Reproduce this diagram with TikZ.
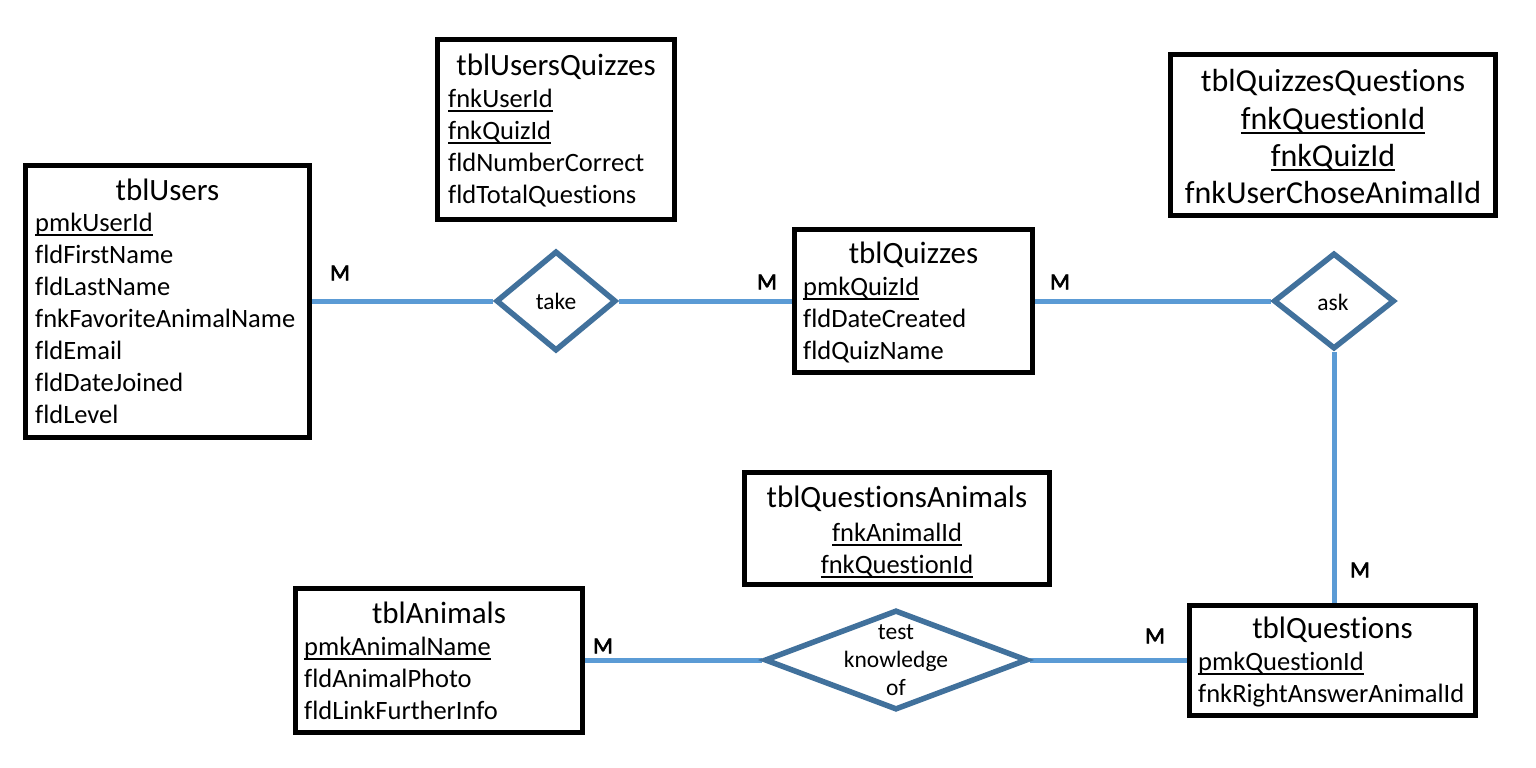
\documentclass[tikz,border=0pt]{standalone}
\usepackage{fontspec}
\setmainfont{Carlito}[Ligatures={NoCommon,NoRequired,NoContextual}]
\newfontfamily\cardfont{Carlito}[FakeBold=3,Ligatures={NoCommon}]
\usetikzlibrary{shapes.geometric,backgrounds}
\definecolor{conn}{HTML}{5B9BD5}
\definecolor{rel}{HTML}{41719C}
\newcommand\myul[1]{\setbox0\hbox{#1}\rlap{\rule[-4.5pt]{\wd0}{1.8pt}}\box0}
\begin{document}
\begin{tikzpicture}[x=1pt,y=-1pt,
  tbl/.style={draw=black,line width=5pt,fill=white,inner sep=0pt,rectangle},
  relship/.style={draw=rel,line width=5.5pt,fill=white,diamond,inner sep=0pt},
  connector/.style={draw=conn,line width=5pt},
  ttl/.style={font=\fontsize{31}{37}\selectfont,inner sep=0pt,anchor=base},
  fld/.style={font=\fontsize{26.5}{32}\selectfont,inner sep=0pt,anchor=base west},
  cfld/.style={font=\fontsize{26.5}{32}\selectfont,inner sep=0pt,anchor=base},
  bigfld/.style={font=\fontsize{32}{38}\selectfont,inner sep=0pt,anchor=base},
  reltext/.style={font=\fontsize{23.5}{28}\selectfont,inner sep=0pt,align=center},
  card/.style={font=\cardfont\fontsize{23}{24}\selectfont,inner sep=0pt}]
\useasboundingbox (0,0) rectangle (1536,768);

% tables
\node[tbl,minimum width=284pt,minimum height=272pt] (users) at (167.5,301) {};
\node[tbl,minimum width=237pt,minimum height=180pt] (uq) at (556,129.5) {};
\node[tbl,minimum width=238pt,minimum height=143pt] (quizzes) at (913.5,301) {};
\node[tbl,minimum width=325pt,minimum height=161pt] (qq) at (1333,135) {};
\node[tbl,minimum width=305pt,minimum height=112pt] (qa) at (897,528.5) {};
\node[tbl,minimum width=287pt,minimum height=144pt] (animals) at (439,660) {};
\node[tbl,minimum width=286pt,minimum height=110pt] (questions) at (1332.5,660) {};

% relationships
\node[relship,minimum width=120pt,minimum height=100pt] (take) at (556,301) {};
\node[relship,minimum width=121pt,minimum height=96pt] (ask) at (1334,301) {};
\node[relship,minimum width=263pt,minimum height=100pt] (test) at (896,660) {};
\node[reltext] (taketxt) at (556,301) {take};
\node[reltext] (asktxt) at (1333,302) {ask};
\node[reltext] (testtxt) at (896,660) {test\\knowledge\\of};

% tblUsers
\node[ttl] (usersT) at (167.5,200) {tblUsers};
\foreach \t [count=\i from 0] in {\myul{pmkUserId},fldFirstName,fldLastName,fnkFavoriteAnimalName,fldEmail,fldDateJoined,fldLevel}
  \node[fld] (u\i) at (35,231+32*\i) {\t};

% tblUsersQuizzes
\node[ttl] (uqT) at (556,75) {tblUsersQuizzes};
\foreach \t [count=\i from 0] in {\myul{fnkUserId},\myul{fnkQuizId},fldNumberCorrect,fldTotalQuestions}
  \node[fld] (uq\i) at (448,107+32*\i) {\t};

% tblQuizzes
\node[ttl] (quizzesT) at (913.5,263) {tblQuizzes};
\foreach \t [count=\i from 0] in {\myul{pmkQuizId},fldDateCreated,fldQuizName}
  \node[fld] (qz\i) at (803,295+32*\i) {\t};

% tblQuizzesQuestions
\node[bigfld] (qqT) at (1333,92) {tblQuizzesQuestions};
\foreach \t [count=\i from 0] in {\myul{fnkQuestionId},\myul{fnkQuizId},fnkUserChoseAnimalId}
  \node[bigfld] (qq\i) at (1333,129+37*\i) {\t};

% tblQuestionsAnimals
\node[ttl] (qaT) at (897,507) {tblQuestionsAnimals};
\foreach \t [count=\i from 0] in {\myul{fnkAnimalId},\myul{fnkQuestionId}}
  \node[cfld] (qa\i) at (897,541+32*\i) {\t};

% tblAnimals
\node[ttl] (animalsT) at (439,623) {tblAnimals};
\foreach \t [count=\i from 0] in {\myul{pmkAnimalName},fldAnimalPhoto,fldLinkFurtherInfo}
  \node[fld] (an\i) at (304,655+32*\i) {\t};

% tblQuestions
\node[ttl] (questionsT) at (1332.5,638) {tblQuestions};
\foreach \t [count=\i from 0] in {\myul{pmkQuestionId},fnkRightAnswerAnimalId}
  \node[fld] (qs\i) at (1198,670+32*\i) {\t};

% cardinalities
\node[card] (m1) at (340,273) {M};
\node[card] (m2) at (767,282) {M};
\node[card] (m3) at (1060,282) {M};
\node[card] (m4) at (1360,570) {M};
\node[card] (m5) at (1155,636) {M};
\node[card] (m6) at (603,646) {M};

\begin{pgfonlayer}{background}
\fill[white] (0,0) rectangle (1536,768);
\draw[connector] (users.east) -- (take.west);
\draw[connector] (take.east) -- (quizzes.west);
\draw[connector] (quizzes.east) -- (ask.west);
\draw[connector] (ask.south) -- (ask.south |- questions.north);
\draw[connector] (animals.east) -- (test.west);
\draw[connector] (test.east) -- (test.east -| questions.west);
\end{pgfonlayer}
\end{tikzpicture}
\end{document}
